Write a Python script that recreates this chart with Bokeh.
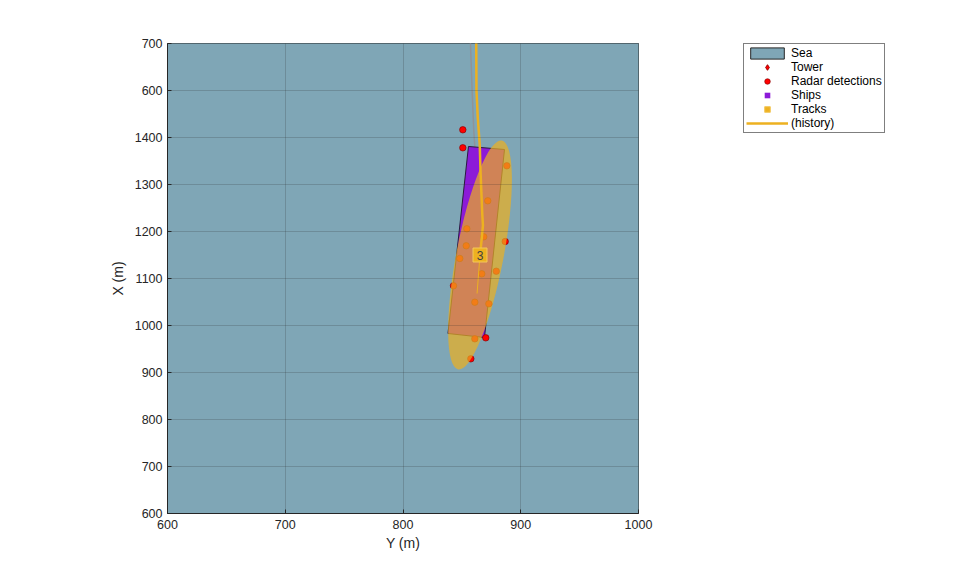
import numpy as np
from bokeh.plotting import figure
from bokeh.models import Range1d, FixedTicker, Legend, LegendItem
from bokeh.core.properties import value
from bokeh.embed import file_html
from bokeh.resources import INLINE

# ---------------- data ----------------
x_ticks = [600, 700, 800, 900, 1000]
y_ticks = [600, 700, 800, 900, 1000, 1100, 1200, 1300, 1400, 1500, 1600]
y_tick_labels = ["600", "700", "800", "900", "1000", "1100", "1200", "1300", "1400", "600", "700"]

# sea area
sea_h = [0, 2000, 2000, 0]
sea_v = [0, 0, 3000, 3000]

# radar detections (horizontal = Y (m), vertical = X (m))
det_h = [850.8, 850.8, 888.2, 872.0, 854.2, 868.6, 886.8, 853.7, 848.2,
         866.9, 879.2, 842.9, 861.0, 872.9, 861.0, 870.3, 857.6]
det_v = [1416.4, 1378.1, 1339.8, 1265.3, 1205.7, 1188.7, 1178.7, 1169.6, 1142.6,
         1110.0, 1115.5, 1084.5, 1049.6, 1046.2, 971.7, 973.8, 929.1]

# ship outline (corners)
ship_h = [855.6, 886.2, 869.2, 838.2]
ship_v = [1380.9, 1374.5, 974.5, 983.0]

# ship truth history
ship_hist_h = [857.0, 857.3, 858.7, 860.1, 861.0]
ship_hist_v = [1650, 1600, 1500, 1415, 1380]

# track estimate, covariance ellipse and label
track_h = [865.4]
track_v = [1150.0]
track_label = ["3"]
ell_w = [40.1]      # minor extent (m, horizontal units)
ell_hgt = [495.7]   # major extent (m, vertical units)
ell_angle = [-0.189]

# track history
hist_h = [862.0, 862.2, 862.4, 863.5, 865.2, 865.8, 867.3, 867.9, 866.7, 865.4]
hist_v = [1650, 1600, 1500, 1442.6, 1383, 1329.8, 1238.3, 1212.8, 1180.9, 1150.0]

# track velocity stub
vel_h = [865.4, 862.9]
vel_v = [1150.0, 1068.0]

# tower (outside of view)
tower_h = [300.0]
tower_v = [300.0]

SEA = "#7fa6b6"
TRACK = "#EDB120"
SHIP = "#8c1ad8"
FONT = "Liberation Sans"

p = figure(frame_width=471, frame_height=470,
           x_range=Range1d(600, 1000), y_range=Range1d(600, 1600),
           output_backend="svg", toolbar_location=None,
           min_border_left=167, min_border_right=20,
           min_border_top=43, min_border_bottom=57,
           background_fill_color=SEA, border_fill_color="white")
p.outline_line_color = "#262626"
p.outline_line_width = 1

# axes
for ax in (p.xaxis[0], p.yaxis[0]):
    ax.major_label_text_font = FONT
    ax.major_label_text_font_size = "12.5px"
    ax.major_label_text_color = "#262626"
    ax.axis_label_text_font = FONT
    ax.axis_label_text_font_size = "14px"
    ax.axis_label_text_font_style = "normal"
    ax.axis_label_text_color = "#262626"
    ax.axis_line_color = "#262626"
    ax.major_tick_line_color = "#262626"
    ax.major_tick_in = 4
    ax.major_tick_out = 0
    ax.minor_tick_line_color = None

p.xaxis[0].ticker = FixedTicker(ticks=x_ticks)
p.yaxis[0].ticker = FixedTicker(ticks=y_ticks)
p.yaxis[0].major_label_overrides = {t: l for t, l in zip(y_ticks, y_tick_labels)}
p.xaxis[0].axis_label = "Y (m)"
p.yaxis[0].axis_label = "X (m)"
p.xaxis[0].major_label_standoff = 6
p.xaxis[0].axis_label_standoff = 3
p.yaxis[0].major_label_standoff = 5
p.yaxis[0].axis_label_standoff = 6

p.xgrid.ticker = FixedTicker(ticks=x_ticks)
p.ygrid.ticker = FixedTicker(ticks=y_ticks)

# sea
sea_r = p.patch(sea_h, sea_v, fill_color=SEA, line_color="#262626", line_width=1)

# grid drawn above the sea
p.grid.level = "overlay"
p.grid.grid_line_color = "#262626"
p.grid.grid_line_alpha = 0.2

# ship truth history
p.line(ship_hist_h, ship_hist_v, line_color="#8f9499", line_width=1.5)

# ship
p.patch(ship_h, ship_v, fill_color=SHIP, line_color="#2a1a40", line_width=1)
ship_pos_h = [float(np.mean(ship_h))]
ship_pos_v = [float(np.mean(ship_v))]
ship_mk = p.scatter(ship_pos_h, ship_pos_v, marker="square", size=8,
                    fill_color=SHIP, line_color=None)

# detections
det_r = p.scatter(det_h, det_v, marker="circle", size=6.5, fill_color="#ff0000",
                  line_color="#7a0000", line_width=0.6)

# covariance ellipse
p.ellipse(x=track_h, y=track_v, width=ell_w, height=ell_hgt, angle=ell_angle,
          fill_color=TRACK, fill_alpha=0.7, line_color=None)

# track history
hist_r = p.line(hist_h, hist_v, line_color=TRACK, line_width=2.5)
p.line(vel_h, vel_v, line_color=TRACK, line_width=1)

# track marker and label
track_r = p.scatter(track_h, track_v, marker="square", size=14,
                    fill_color=TRACK, line_color="#f3c75a", line_width=1)
p.text(x=track_h, y=track_v, text=track_label, text_align="center",
       text_baseline="middle", text_font=value(FONT), text_font_size="12px",
       text_color="#404040")

# tower
tower_r = p.scatter(tower_h, tower_v, marker="diamond", size=15,
                    fill_color="#ff0000", line_color="#a00000")

legend = Legend(items=[
    LegendItem(label="Sea", renderers=[sea_r]),
    LegendItem(label="Tower", renderers=[tower_r]),
    LegendItem(label="Radar detections", renderers=[det_r]),
    LegendItem(label="Ships", renderers=[ship_mk]),
    LegendItem(label="Tracks", renderers=[track_r]),
    LegendItem(label="(history)", renderers=[hist_r]),
], location=(105, 380))
legend.label_text_font = FONT
legend.label_text_font_size = "12px"
legend.label_text_color = "black"
legend.label_height = 14
legend.glyph_height = 14
legend.glyph_width = 42
legend.label_standoff = 3
legend.padding = 2
legend.spacing = 0
legend.margin = 0
legend.border_line_color = "black"
legend.border_line_width = 1
legend.background_fill_color = "white"
legend.background_fill_alpha = 1
p.add_layout(legend, "right")

open("out.html", "w").write(file_html(p, INLINE))
